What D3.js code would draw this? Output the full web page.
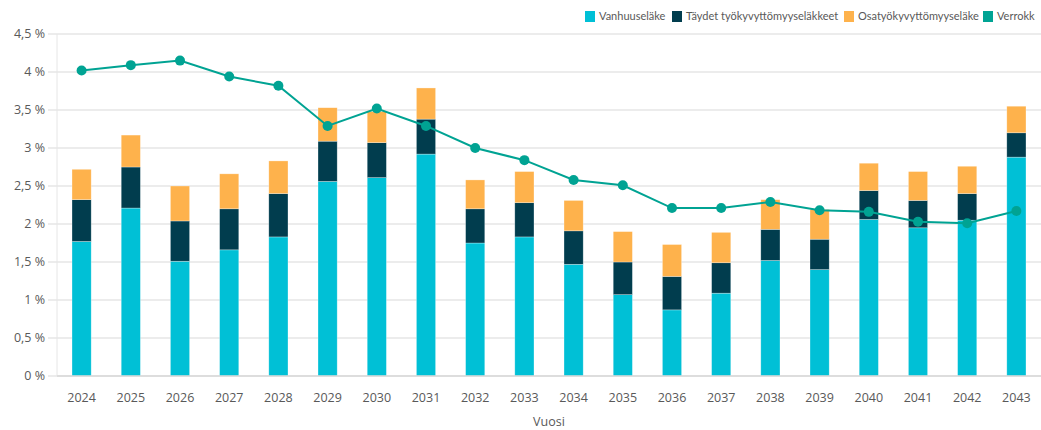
<!DOCTYPE html>
<html>
<head>
<meta charset="utf-8">
<script src="https://cdn.jsdelivr.net/npm/d3@7"></script>
<style>
  body { margin: 0; background: #fff; }
  svg { display: block; font-family: "Open Sans", "DejaVu Sans", sans-serif; }
</style>
</head>
<body>
<div id="chart"></div>
<script>
// vuodet
var years = ["2024","2025","2026","2027","2028","2029","2030","2031","2032","2033",
             "2034","2035","2036","2037","2038","2039","2040","2041","2042","2043"];
// pinotut osat, %
var vanhuus = [1.77,2.21,1.51,1.66,1.83,2.56,2.61,2.92,1.75,1.83,1.47,1.07,0.87,1.09,1.52,1.40,2.06,1.95,2.05,2.88];
var taydet  = [0.55,0.54,0.53,0.54,0.57,0.53,0.46,0.46,0.45,0.45,0.44,0.43,0.44,0.40,0.41,0.40,0.38,0.36,0.35,0.32];
var osa     = [0.40,0.42,0.46,0.46,0.43,0.44,0.41,0.41,0.38,0.41,0.40,0.40,0.42,0.40,0.39,0.39,0.36,0.38,0.36,0.35];
// viiva
var verrokki = [4.02,4.09,4.15,3.94,3.82,3.29,3.52,3.29,3.00,2.84,2.58,2.51,2.21,2.21,2.29,2.18,2.16,2.03,2.01,2.17];
var yTicks = [0,0.5,1,1.5,2,2.5,3,3.5,4,4.5];
var seriesNames = ["Vanhuuseläke","Täydet työkyvyttömyyseläkkeet","Osatyökyvyttömyyseläke","Verrokkilaskelma"];

var colors = ["#00c0d6","#013d4e","#feb24c","#00a393"];
var W = 1041, H = 430;
var plotL = 57, plotR = 1041, plotT = 34, plotB = 376;

var svg = d3.select("#chart").append("svg").attr("width", W).attr("height", H);

var x = d3.scaleBand().domain(years).range([plotL, plotR]).paddingInner(0.61).paddingOuter(0.305);
var y = d3.scaleLinear().domain([0, 4.5]).range([plotB, plotT]);

// gridlines
svg.append("g").selectAll("line").data(yTicks).enter().append("line")
  .attr("x1", 48).attr("x2", plotR)
  .attr("y1", function(d){ return y(d); }).attr("y2", function(d){ return y(d); })
  .attr("stroke", "#e6e6e6").attr("stroke-width", 1.5);

svg.append("line").attr("x1", plotL).attr("x2", plotL).attr("y1", plotT).attr("y2", plotB)
  .attr("stroke", "#e6e6e6").attr("stroke-width", 1);

// y tick labels
svg.append("g").selectAll("text").data(yTicks).enter().append("text")
  .attr("x", 45).attr("y", function(d){ return y(d); }).attr("dy", "0.35em")
  .attr("text-anchor", "end").attr("font-size", 12.5).attr("fill", "#595959")
  .text(function(d){ return String(d).replace(".", ",") + " %"; });

// stacked bars
var rows = years.map(function(yr, i){ return {year: yr, a: vanhuus[i], b: taydet[i], c: osa[i]}; });
var stack = d3.stack().keys(["a","b","c"])(rows);

svg.append("g").selectAll("g").data(stack).enter().append("g")
  .attr("fill", function(d, i){ return colors[i]; })
  .selectAll("rect").data(function(d){ return d; }).enter().append("rect")
  .attr("x", function(d){ return x(d.data.year); })
  .attr("width", x.bandwidth())
  .attr("y", function(d){ return y(d[1]); })
  .attr("height", function(d){ return y(d[0]) - y(d[1]); })
  .attr("stroke", "rgba(255,255,255,0.5)").attr("stroke-width", 0.6);

// x axis line
svg.append("line").attr("x1", plotL).attr("x2", plotR).attr("y1", plotB).attr("y2", plotB)
  .attr("stroke", "#d9d9d9").attr("stroke-width", 1.5);

// x labels
svg.append("g").selectAll("text").data(years).enter().append("text")
  .attr("x", function(d){ return x(d) + x.bandwidth() / 2; }).attr("y", 402)
  .attr("text-anchor", "middle").attr("font-size", 12.5).attr("fill", "#595959")
  .text(function(d){ return d; });

svg.append("text").attr("x", (plotL + plotR) / 2).attr("y", 426)
  .attr("text-anchor", "middle").attr("font-size", 12.5).attr("fill", "#595959").text("Vuosi");

// line
var line = d3.line()
  .x(function(d, i){ return x(years[i]) + x.bandwidth() / 2; })
  .y(function(d){ return y(d); });

svg.append("path").datum(verrokki).attr("d", line)
  .attr("fill", "none").attr("stroke", colors[3]).attr("stroke-width", 2);

svg.append("g").selectAll("circle").data(verrokki).enter().append("circle")
  .attr("cx", function(d, i){ return x(years[i]) + x.bandwidth() / 2; })
  .attr("cy", function(d){ return y(d); })
  .attr("r", 5).attr("fill", colors[3]);

// legend
svg.append("clipPath").attr("id", "lg").append("rect").attr("x", 0).attr("y", 0).attr("width", 1035).attr("height", 30);
var legX = [585, 672, 844, 983];
var leg = svg.append("g").attr("clip-path", "url(#lg)").selectAll("g").data(seriesNames).enter().append("g")
  .attr("transform", function(d, i){ return "translate(" + legX[i] + ",11)"; });
leg.append("rect").attr("width", 10).attr("height", 11).attr("fill", function(d, i){ return colors[i]; });
leg.append("text").attr("x", 14).attr("y", 5.5).attr("dy", "0.35em")
  .attr("font-family", "Lato, 'Open Sans', sans-serif")
  .attr("font-size", 11).attr("fill", "#595959").text(function(d){ return d; });
</script>
</body>
</html>
